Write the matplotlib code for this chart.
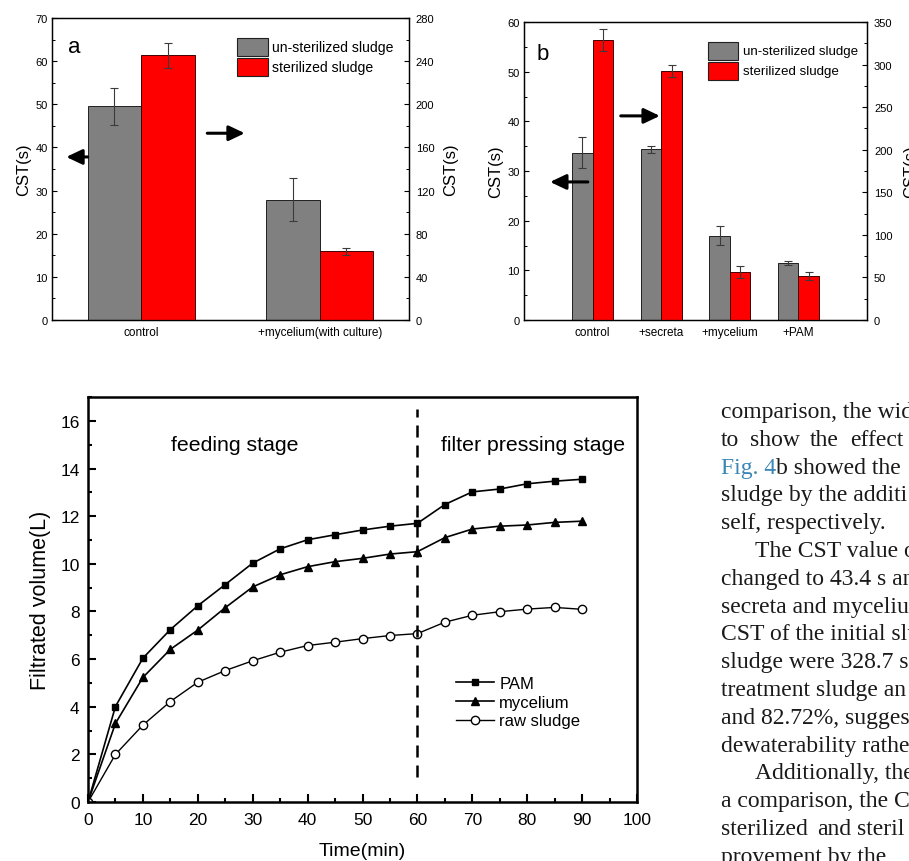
import numpy as np
import matplotlib
matplotlib.use('Agg')
import matplotlib.pyplot as plt
from matplotlib.patches import Rectangle
from matplotlib.ticker import MultipleLocator

SANS = ['Liberation Sans', 'DejaVu Sans']
SERIF = ['Liberation Serif', 'DejaVu Serif']
plt.rcParams['font.family'] = SANS

# panel a: CST, left axis un-sterilized, right axis sterilized
a_groups = ['control', '+mycelium(with culture)']
a_unster = [49.5, 27.9]
a_unster_err = [4.25, 4.95]
a_ster = [245.7, 63.7]
a_ster_err = [11.6, 3.4]

# panel b
b_groups = ['control', '+secreta', '+mycelium', '+PAM']
b_unster = [33.7, 34.35, 17.0, 11.5]
b_unster_err = [3.1, 0.7, 1.95, 0.4]
b_ster = [328.7, 292.4, 56.4, 51.7]
b_ster_err = [13.0, 7.0, 7.0, 5.0]

series_names = ['un-sterilized sludge', 'sterilized sludge']

# filtration curves
time_min = [0, 5, 10, 15, 20, 25, 30, 35, 40, 45, 50, 55, 60, 65, 70, 75, 80, 85, 90]
pam = [0, 4.01, 6.04, 7.24, 8.24, 9.13, 10.03, 10.63, 11.01, 11.22, 11.42, 11.58,
       11.70, 12.49, 13.02, 13.14, 13.36, 13.47, 13.55]
mycelium = [0, 3.30, 5.23, 6.41, 7.22, 8.16, 9.03, 9.54, 9.88, 10.09, 10.23, 10.41,
            10.51, 11.10, 11.46, 11.58, 11.63, 11.74, 11.79]
raw_sludge = [0, 2.00, 3.23, 4.22, 5.03, 5.52, 5.93, 6.29, 6.57, 6.71, 6.86, 6.99,
              7.07, 7.55, 7.84, 7.99, 8.10, 8.17, 8.09]

GRAY = '#808080'
RED = '#ff0000'

fig = plt.figure(figsize=(9.09, 8.62), dpi=100)


def cst_panel(rect, groups, lvals, lerr, rvals, rerr, lmax, rmax, lstep, rstep,
              xlim, lpad, rpad):
    ax = fig.add_axes(rect)
    axr = ax.twinx()
    x = np.arange(len(groups))
    w = 0.30
    ekw = dict(ecolor='#3a3a3a', elinewidth=0.8, capsize=3, capthick=0.8)
    ax.bar(x - w / 2, lvals, w, yerr=lerr, color=GRAY, edgecolor='#202020',
           linewidth=0.7, error_kw=ekw, zorder=2)
    axr.bar(x + w / 2, rvals, w, yerr=rerr, color=RED, edgecolor='#400000',
            linewidth=0.7, error_kw=ekw, zorder=2)
    ax.set_xlim(xlim)
    ax.set_ylim(0, lmax)
    axr.set_ylim(0, rmax)
    ax.yaxis.set_major_locator(MultipleLocator(lstep))
    ax.yaxis.set_minor_locator(MultipleLocator(lstep / 2))
    axr.yaxis.set_major_locator(MultipleLocator(rstep))
    axr.yaxis.set_minor_locator(MultipleLocator(rstep / 2))
    ax.set_xticks(x)
    ax.set_xticklabels(groups, fontsize=8.5)
    ax.tick_params(axis='x', direction='in', length=3, pad=4)
    for a in (ax, axr):
        a.tick_params(axis='y', which='major', direction='in', length=3.5,
                      width=0.8, labelsize=8)
        a.tick_params(axis='y', which='minor', direction='in', length=2, width=0.7)
        for s in a.spines.values():
            s.set_linewidth(0.9)
    ax.tick_params(axis='y', pad=3)
    axr.tick_params(axis='y', pad=5)
    ax.set_ylabel('CST(s)', fontsize=12, labelpad=lpad)
    axr.set_ylabel('CST(s)', fontsize=12, labelpad=rpad)
    return ax, axr


def box_legend(ax, x0, ys, w, h, tx, size):
    for y, c, name in zip(ys, [GRAY, RED], series_names):
        ax.add_patch(Rectangle((x0, y), w, h, transform=ax.transAxes,
                               facecolor=c, edgecolor='#202020', lw=0.8, zorder=5))
        ax.text(tx, y + h / 2, name, transform=ax.transAxes, fontsize=size,
                va='center', ha='left', zorder=5)


def arrow(ax, tail, head, y):
    ax.annotate('', xy=(head, y), xytext=(tail, y),
                arrowprops=dict(arrowstyle='-|>,head_length=0.8,head_width=0.38',
                                lw=2.2, color='black', shrinkA=0, shrinkB=0,
                                mutation_scale=12), zorder=6)


# panel a
axa, axa_r = cst_panel([0.0572, 0.6276, 0.3927, 0.3503], a_groups, a_unster,
                       a_unster_err, a_ster, a_ster_err, 70, 280, 10, 40,
                       (-0.5, 1.5), 3, 6)
box_legend(axa_r, 0.518, [0.874, 0.808], 0.087, 0.0596, 0.616, 10.1)
axa_r.text(0.062, 0.905, 'a', transform=axa_r.transAxes, fontsize=16,
           ha='center', va='center')
arrow(axa, -0.30, -0.42, 37.8)
arrow(axa, 0.37, 0.58, 43.3)

# panel b
axb, axb_r = cst_panel([0.5765, 0.6276, 0.3773, 0.3457], b_groups, b_unster,
                       b_unster_err, b_ster, b_ster_err, 60, 350, 10, 50,
                       (-1.0, 4.0), 3.5, 8)
box_legend(axb_r, 0.536, [0.872, 0.805], 0.0875, 0.0604, 0.638, 9.6)
axb_r.text(0.055, 0.893, 'b', transform=axb_r.transAxes, fontsize=16,
           ha='center', va='center')
arrow(axb, -0.07, -0.62, 27.8)
arrow(axb, 0.41, 0.98, 41.1)

# filtration panel
ax3 = fig.add_axes([0.0968, 0.0684, 0.604, 0.4698])
ax3.plot(time_min, pam, '-s', color='black', ms=5, lw=1.2, label='PAM')
ax3.plot(time_min, mycelium, '-^', color='black', ms=6, lw=1.2, label='mycelium')
ax3.plot(time_min, raw_sludge, '-o', color='black', mfc='white', ms=6, lw=1.0,
         label='raw sludge')
ax3.vlines(60, 1.05, 16.5, colors='black', linewidth=1.8,
           linestyles=(0, (4.8, 3.2)))
ax3.set_xlim(0, 100)
ax3.set_ylim(0, 17)
ax3.xaxis.set_major_locator(MultipleLocator(10))
ax3.xaxis.set_minor_locator(MultipleLocator(5))
ax3.yaxis.set_major_locator(MultipleLocator(2))
ax3.yaxis.set_minor_locator(MultipleLocator(1))
ax3.tick_params(which='major', direction='in', length=6, width=1.5, labelsize=12.5)
ax3.tick_params(which='minor', direction='in', length=3, width=1.5)
ax3.tick_params(axis='y', pad=6)
ax3.tick_params(axis='x', pad=7)
for s in ax3.spines.values():
    s.set_linewidth(1.8)
ax3.set_xlabel('Time(min)', fontsize=14, labelpad=11)
ax3.set_ylabel('Filtrated volume(L)', fontsize=15.5, labelpad=7)
ax3.text(26.7, 15.0, 'feeding stage', fontsize=15.3, ha='center', va='center')
ax3.text(81.0, 15.0, 'filter pressing stage', fontsize=15.3, ha='center',
         va='center')
ax3.legend(loc='upper left', bbox_to_anchor=(0.670, 0.311), frameon=False,
           fontsize=12, handlelength=2.3, handletextpad=0.3, labelspacing=0.22,
           borderpad=0, borderaxespad=0)

# body text column on the right
W, H = 909.0, 862.0
x_left = 721
x_indent = 755
base0 = 418
step = 27.8
text_rows = {
    0: [(x_left, 'comparison, the wid')],
    1: [(721, 'to'), (750, 'show'), (810, 'the'), (850, 'effect')],
    3: [(x_left, 'sludge by the additi')],
    4: [(x_left, 'self, respectively.')],
    5: [(x_indent, 'The CST value o')],
    6: [(x_left, 'changed to 43.4 s an')],
    7: [(x_left, 'secreta and myceliu')],
    8: [(x_left, 'CST of the initial slu')],
    9: [(x_left, 'sludge were 328.7 s')],
    10: [(x_left, 'treatment sludge an')],
    11: [(x_left, 'and 82.72%, sugges')],
    12: [(x_left, 'dewaterability rathe')],
    13: [(x_indent, 'Additionally, the')],
    14: [(x_left, 'a comparison, the C')],
    15: [(721, 'sterilized'), (817, 'and'), (857, 'steril')],
    16: [(x_left, 'provement by the')],
}
tkw = dict(family=SERIF, fontsize=17, color='#1a1a1a', va='baseline', ha='left')
for i, words in text_rows.items():
    for xw, word in words:
        fig.text(xw / W, 1 - (base0 + i * step) / H, word, **tkw)

# line with the figure link
y3 = 1 - (base0 + 2 * step) / H
fig.text(x_left / W, y3, 'Fig. 4', **dict(tkw, color='#3a87b5'))
fig.text(776 / W, y3, 'b showed the', **tkw)

fig.savefig('out.png', dpi=100)
